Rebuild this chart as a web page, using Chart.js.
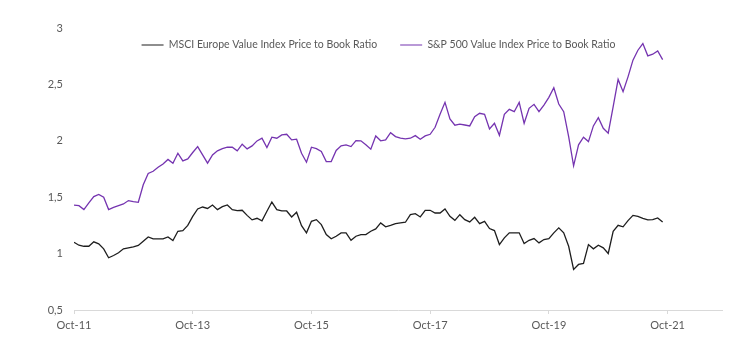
<!DOCTYPE html>
<html>
<head>
<meta charset="utf-8">
<script src="https://cdn.jsdelivr.net/npm/chart.js@4.4.1/dist/chart.umd.min.js"></script>
<style>
  html, body { margin: 0; padding: 0; background: #ffffff; }
  #wrap { width: 735px; height: 348px; }
</style>
</head>
<body>
<div id="wrap"><canvas id="chart" width="735" height="348"></canvas></div>
<script>
// Series names shown in the legend
const seriesNames = [
  'MSCI Europe Value Index Price to Book Ratio',
  'S&P 500 Value Index Price to Book Ratio'
];

// Monthly observations, Oct-2011 to Sep-2021 (index 0 = Oct-11)
const msciEuropeValuePB = [
  1.10, 1.074, 1.065, 1.065, 1.104, 1.086, 1.042, 0.963, 0.983, 1.007, 1.042, 1.051,
  1.06, 1.072, 1.11, 1.148, 1.131, 1.131, 1.131, 1.148, 1.116, 1.198, 1.204, 1.25,
  1.33, 1.396, 1.413, 1.40, 1.431, 1.39, 1.416, 1.431, 1.39, 1.381, 1.384, 1.339,
  1.299, 1.313, 1.29, 1.375, 1.457, 1.39, 1.378, 1.378, 1.325, 1.367, 1.248, 1.184,
  1.286, 1.301, 1.257, 1.169, 1.131, 1.154, 1.184, 1.184, 1.118, 1.154, 1.169, 1.169,
  1.198, 1.219, 1.272, 1.237, 1.25, 1.266, 1.272, 1.278, 1.345, 1.354, 1.325, 1.383,
  1.384, 1.36, 1.36, 1.396, 1.33, 1.295, 1.345, 1.301, 1.281, 1.322, 1.266, 1.286,
  1.222, 1.204, 1.08, 1.139, 1.184, 1.184, 1.184, 1.089, 1.118, 1.133, 1.095, 1.125,
  1.133, 1.184, 1.228, 1.184, 1.065, 0.86, 0.904, 0.913, 1.08, 1.042, 1.074, 1.051,
  1.001, 1.198, 1.251, 1.237, 1.292, 1.339, 1.33, 1.313, 1.299, 1.301, 1.316, 1.281
];

const sp500ValuePB = [
  1.43, 1.425, 1.39, 1.45, 1.505, 1.525, 1.50, 1.39, 1.41, 1.425, 1.44, 1.47,
  1.46, 1.455, 1.61, 1.71, 1.73, 1.765, 1.795, 1.835, 1.80, 1.89, 1.822, 1.84,
  1.896, 1.949, 1.875, 1.802, 1.875, 1.911, 1.931, 1.943, 1.943, 1.911, 1.97, 1.928,
  1.955, 1.999, 2.023, 1.94, 2.032, 2.023, 2.052, 2.058, 2.008, 2.014, 1.89, 1.81,
  1.943, 1.93, 1.905, 1.816, 1.816, 1.914, 1.955, 1.964, 1.949, 2.002, 2.0, 1.964,
  1.926, 2.043, 2.0, 2.008, 2.072, 2.037, 2.023, 2.017, 2.023, 2.046, 2.014, 2.043,
  2.058, 2.12, 2.235, 2.341, 2.193, 2.138, 2.147, 2.14, 2.132, 2.214, 2.244, 2.235,
  2.105, 2.155, 2.049, 2.235, 2.279, 2.258, 2.341, 2.155, 2.288, 2.323, 2.258, 2.317,
  2.385, 2.47, 2.326, 2.258, 2.037, 1.778, 1.964, 2.032, 1.993, 2.132, 2.205, 2.111,
  2.067, 2.302, 2.544, 2.435, 2.567, 2.715, 2.803, 2.862, 2.753, 2.768, 2.797, 2.72
];

// Date axis: labelled every 24 months, running on past the last label
const xTickMonths = [0, 24, 48, 72, 96, 120];
const xTickLabels = ['Oct-11', 'Oct-13', 'Oct-15', 'Oct-17', 'Oct-19', 'Oct-21'];
const xAxisEnd = 131;

// Value axis ticks (decimal comma)
const yTickValues = [0.5, 1, 1.5, 2, 2.5, 3];
const yTickLabels = ['0,5', '1', '1,5', '2', '2,5', '3'];

const textColor = '#595959';
const axisFont = { family: 'Lato', size: 11 };

const toPoints = values => values.map((v, i) => ({ x: i, y: v }));

// Legend sits inside the plot, centred over the lines
const legendPlacement = {
  id: 'legendPlacement',
  afterLayout(chart) {
    const lg = chart.legend;
    const w = lg.right - lg.left;
    const centre = 378.5;
    lg.left = centre - w / 2;
    lg.right = centre + w / 2;
    lg.top = 45 - lg.options.labels.padding - 5.25;
    lg.bottom = lg.top + 40;
  }
};

new Chart(document.getElementById('chart'), {
  type: 'line',
  data: {
    datasets: [
      {
        label: seriesNames[0],
        data: toPoints(msciEuropeValuePB),
        borderColor: '#1e1e1e',
        backgroundColor: '#1e1e1e',
        borderWidth: 1.3,
        pointRadius: 0,
        tension: 0
      },
      {
        label: seriesNames[1],
        data: toPoints(sp500ValuePB),
        borderColor: '#7534b0',
        backgroundColor: '#7534b0',
        borderWidth: 1.3,
        pointRadius: 0,
        tension: 0
      }
    ]
  },
  options: {
    responsive: false,
    animation: false,
    devicePixelRatio: 1,
    layout: { padding: { top: 27, left: 0, right: 13, bottom: 0 } },
    plugins: {
      tooltip: { enabled: false },
      legend: {
        position: 'top',
        maxHeight: 1,
        labels: {
          boxWidth: 22,
          boxHeight: 1.2,
          padding: 23,
          color: textColor,
          font: { family: 'Lato', size: 10.5 },
          generateLabels(chart) {
            return Chart.defaults.plugins.legend.labels.generateLabels(chart)
              .map(item => Object.assign(item, { lineWidth: 0 }));
          }
        }
      }
    },
    scales: {
      x: {
        type: 'linear',
        min: 0,
        max: xAxisEnd,
        afterBuildTicks(scale) {
          scale.ticks = xTickMonths.map(v => ({ value: v }));
        },
        afterFit(scale) { scale.height = 38; },
        grid: {
          display: true,
          drawOnChartArea: false,
          drawTicks: true,
          tickLength: 4,
          color: '#d9d9d9'
        },
        border: { display: true, color: '#d9d9d9', width: 1 },
        ticks: {
          padding: 5,
          maxRotation: 0,
          autoSkip: false,
          color: textColor,
          font: axisFont,
          callback: v => xTickLabels[xTickMonths.indexOf(v)]
        }
      },
      y: {
        min: 0.5,
        max: 3,
        afterBuildTicks(scale) {
          scale.ticks = yTickValues.map(v => ({ value: v }));
        },
        afterFit(scale) { scale.width = 74; },
        grid: { display: false, drawTicks: false },
        border: { display: false },
        ticks: {
          padding: 11,
          color: textColor,
          font: axisFont,
          callback: v => yTickLabels[yTickValues.indexOf(v)]
        }
      }
    }
  },
  plugins: [legendPlacement]
});
</script>
</body>
</html>
